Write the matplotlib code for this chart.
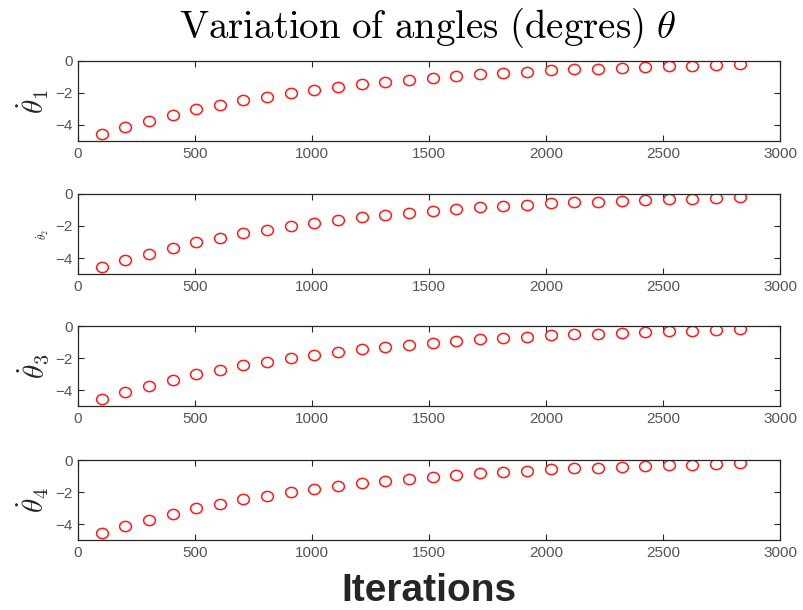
import matplotlib
matplotlib.use("Agg")
import matplotlib.pyplot as plt
from matplotlib.path import Path
from matplotlib.transforms import Affine2D

plt.rcParams['mathtext.fontset'] = 'cm'
plt.rcParams['font.family'] = ['Liberation Sans', 'DejaVu Sans']

# iteration index and angular rate samples (same trace in all four joints)
iterations = [101 * k for k in range(1, 29)]
theta_dot = [-4.55, -4.13, -3.72, -3.37, -3.03, -2.73, -2.46, -2.22, -1.99, -1.80,
             -1.63, -1.46, -1.31, -1.19, -1.06, -0.95, -0.83, -0.72, -0.66, -0.59,
             -0.53, -0.49, -0.42, -0.38, -0.34, -0.32, -0.25, -0.21]

ylabels = [r'$\dot{\theta}_1$', r'$\dot{\theta}_2$', r'$\dot{\theta}_3$', r'$\dot{\theta}_4$']
ylabel_sizes = [21, 8, 21, 21]
xticks = [0, 500, 1000, 1500, 2000, 2500, 3000]
yticks = [-4, -2, 0]

# slightly flattened circle marker
ellipse = Path.unit_circle().transformed(Affine2D().scale(1.15, 1.0))

fig = plt.figure(figsize=(8.04, 6.10), dpi=100)

left, width, height = 78 / 804, 702 / 804, 80 / 610
tops = [61, 194, 326, 460]
tick_color = '#555555'

for i, top in enumerate(tops):
    ax = fig.add_axes([left, 1 - (top + 80) / 610, width, height])
    ax.plot(iterations, theta_dot, linestyle='none', marker=ellipse,
            markerfacecolor='none', markeredgecolor='#ff1a1a',
            markersize=8.5, markeredgewidth=1.1)
    ax.set_xlim(0, 3000)
    ax.set_ylim(-5, 0)
    ax.set_xticks(xticks)
    ax.set_yticks(yticks)
    ax.tick_params(direction='in', length=4, width=0.8, top=True, right=True,
                   labelsize=11, colors='#262626', labelcolor=tick_color, pad=4)
    for sp in ax.spines.values():
        sp.set_color('#262626')
        sp.set_linewidth(0.9)
    ax.set_ylabel(ylabels[i], fontsize=ylabel_sizes[i], color='#262626', labelpad=3)

fig.text(428 / 804, 1 - 38 / 610, r'$\mathrm{Variation\ of\ angles\ (degres)}\ \theta$',
         fontsize=28, ha='center', va='baseline', color='black')
fig.text(429 / 804, 1 - 601 / 610, 'Iterations', fontsize=28, fontweight='bold',
         ha='center', va='baseline', color='#262626')

fig.savefig('out.png', dpi=100)
